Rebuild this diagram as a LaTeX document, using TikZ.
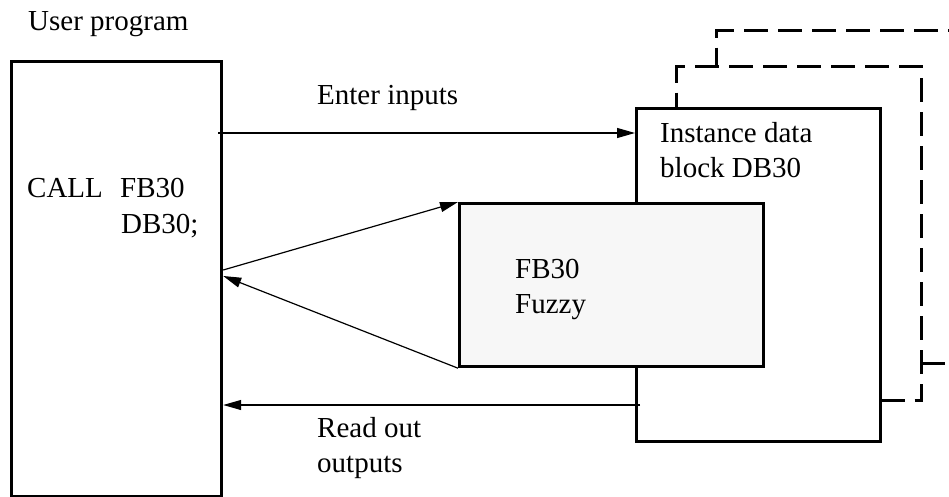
\documentclass[tikz,border=0pt]{standalone}
\usepackage{fontspec}
\setmainfont{Liberation Serif}
\usetikzlibrary{arrows.meta}
\definecolor{fbgray}{HTML}{F7F7F7}
\tikzset{
  box/.style={draw, line width=3.2pt, inner sep=0pt, anchor=north west},
  dbox/.style={box, dash pattern=on 24pt off 10pt},
  arr/.style={line width=1.2pt, -{Triangle[length=18pt,width=10pt]}},
  lbl/.style={inner sep=0pt, anchor=base west, font=\fontsize{29}{35}\selectfont, align=left}
}
\begin{document}
\begin{tikzpicture}[x=1pt,y=-1pt]
\useasboundingbox (0,0) rectangle (949,497);
\clip (0,0) rectangle (949,497);
% stacked instance data blocks
\node[dbox, minimum width=250pt, minimum height=333pt] (D2) at (715,29) {};
\node[dbox, fill=white, minimum width=245pt, minimum height=334pt] (D1) at (675,65) {};
\node[box, fill=white, minimum width=244pt, minimum height=333pt] (I) at (635,107) {};
\node[box, fill=fbgray, minimum width=304pt, minimum height=163pt] (F) at (458,202) {};
\node[box, minimum width=210pt, minimum height=435pt] (L) at (10,60) {};
% labels
\node[lbl] (tUser) at (28,31) {User program};
\node[lbl] (tCall) at (27,197) {CALL};
\node[lbl] (tFB) at (120,197) {FB30};
\node[lbl] (tDB) at (121,233) {DB30;};
\node[lbl] (tEnter) at (317,105) {Enter inputs};
\node[lbl] (tInst) at (660,143) {Instance data};
\node[lbl] (tBlock) at (660,177) {block DB30};
\node[lbl] (tF1) at (515,278) {FB30};
\node[lbl] (tF2) at (515,313) {Fuzzy};
\node[lbl] (tRead) at (317,437) {Read out};
\node[lbl] (tOut) at (317,472) {outputs};
% connectors
\coordinate (eIn) at ([xshift=-5pt]L.east |- 0,133);
\draw[arr] (eIn) -- (I.west |- 0,133);
\draw[arr] (L.east |- 0,270) -- (F.north west);
\draw[arr] (F.south west) -- (L.east |- 0,276);
\coordinate (rOut) at ([xshift=5pt]I.west |- 0,405);
\draw[arr] (rOut) -- (L.east |- 0,405);
\end{tikzpicture}
\end{document}
